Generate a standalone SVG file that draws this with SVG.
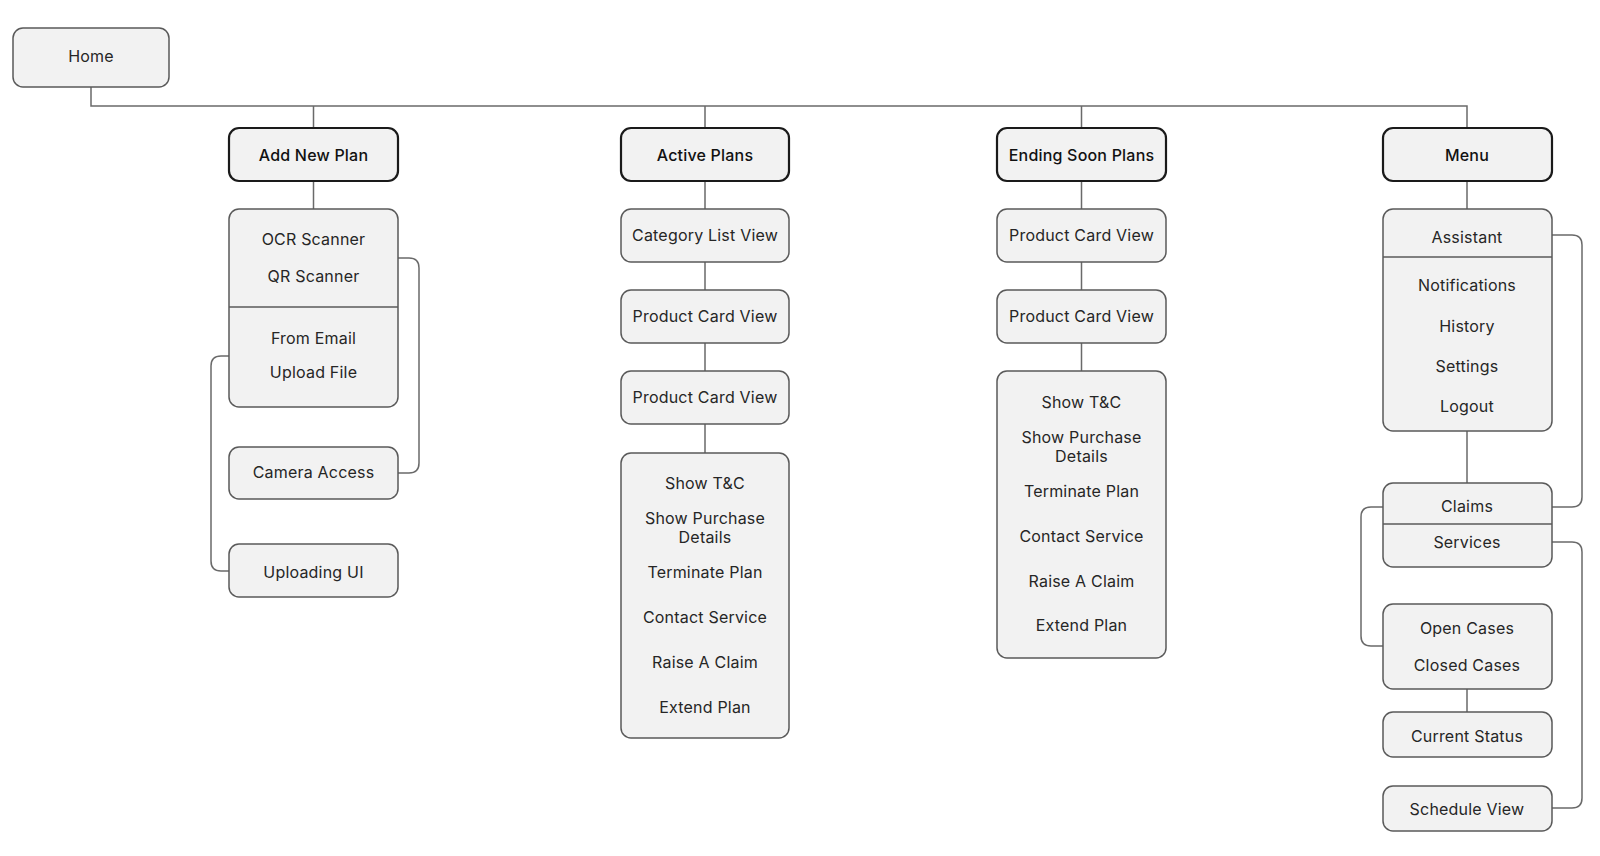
<svg xmlns="http://www.w3.org/2000/svg" width="1600" height="856" viewBox="0 0 1600 856">
<style>
  .box { fill: #f2f2f2; stroke: #5a5a5a; stroke-width: 1.5; }
  .hdr { fill: #f2f2f2; stroke: #1a1a1a; stroke-width: 2.2; }
  .div { stroke: #5a5a5a; stroke-width: 1.5; fill: none; }
  .con { stroke: #6a6a6a; stroke-width: 1.5; fill: none; }
  text { font-family: Inter, "Noto Sans", "Liberation Sans", sans-serif; font-size: 16px; fill: #262626; text-anchor: middle; dominant-baseline: central; letter-spacing: 0.2px; }
  .b { font-weight: 500; fill: #111111; }
</style>
<rect width="1600" height="856" fill="#ffffff"/>

<g id="connectors">
  <path class="con" d="M91 87 V106 H1467 V128"/>
  <path class="con" d="M313.5 106 V128 M705 106 V128 M1081.5 106 V128"/>
  <path class="con" d="M313.5 181 V209"/>
  <path class="con" d="M705 181 V209 M705 262 V290 M705 343 V371 M705 424 V453"/>
  <path class="con" d="M1081.5 181 V209 M1081.5 262 V290 M1081.5 343 V371"/>
  <path class="con" d="M1467 181 V209 M1467 431 V483 M1467 689 V712"/>
  <path class="con" d="M398 258 H409 Q419 258 419 268 V463 Q419 473 409 473 H398"/>
  <path class="con" d="M229 356 H221 Q211 356 211 366 V561 Q211 571 221 571 H229"/>
  <path class="con" d="M1552 235 H1572 Q1582 235 1582 245 V497 Q1582 507 1572 507 H1552"/>
  <path class="con" d="M1383 507 H1371 Q1361 507 1361 517 V636 Q1361 646 1371 646 H1383"/>
  <path class="con" d="M1552 542 H1572 Q1582 542 1582 552 V798 Q1582 808 1572 808 H1552"/>
</g>

<g id="home">
  <rect class="box" x="13" y="28" width="156" height="59" rx="10"/>
  <text x="91" y="56">Home</text>
</g>

<g id="add-new-plan">
  <rect class="hdr" x="229" y="128" width="169" height="53" rx="10"/>
  <text class="b" x="313.5" y="155">Add New Plan</text>
</g>
<g id="scan-options">
  <rect class="box" x="229" y="209" width="169" height="198" rx="10"/>
  <line class="div" x1="229" y1="307" x2="398" y2="307"/>
  <text x="313.5" y="239">OCR Scanner</text>
  <text x="313.5" y="276">QR Scanner</text>
  <text x="313.5" y="338">From Email</text>
  <text x="313.5" y="372">Upload File</text>
</g>
<g id="camera-access">
  <rect class="box" x="229" y="447" width="169" height="52" rx="10"/>
  <text x="313.5" y="472">Camera Access</text>
</g>
<g id="uploading-ui">
  <rect class="box" x="229" y="544" width="169" height="53" rx="10"/>
  <text x="313.5" y="572">Uploading UI</text>
</g>

<g id="active-plans">
  <rect class="hdr" x="621" y="128" width="168" height="53" rx="10"/>
  <text class="b" x="705" y="155">Active Plans</text>
</g>
<g id="category-list-view">
  <rect class="box" x="621" y="209" width="168" height="53" rx="10"/>
  <text x="705" y="235">Category List View</text>
</g>
<g id="active-product-card-1">
  <rect class="box" x="621" y="290" width="168" height="53" rx="10"/>
  <text x="705" y="316">Product Card View</text>
</g>
<g id="active-product-card-2">
  <rect class="box" x="621" y="371" width="168" height="53" rx="10"/>
  <text x="705" y="397">Product Card View</text>
</g>
<g id="active-actions">
  <rect class="box" x="621" y="453" width="168" height="285" rx="10"/>
  <text x="705" y="483">Show T&amp;C</text>
  <text x="705" y="518">Show Purchase</text>
  <text x="705" y="537">Details</text>
  <text x="705" y="572">Terminate Plan</text>
  <text x="705" y="617">Contact Service</text>
  <text x="705" y="662">Raise A Claim</text>
  <text x="705" y="707">Extend Plan</text>
</g>

<g id="ending-soon-plans">
  <rect class="hdr" x="997" y="128" width="169" height="53" rx="10"/>
  <text class="b" x="1081.5" y="155">Ending Soon Plans</text>
</g>
<g id="ending-product-card-1">
  <rect class="box" x="997" y="209" width="169" height="53" rx="10"/>
  <text x="1081.5" y="235">Product Card View</text>
</g>
<g id="ending-product-card-2">
  <rect class="box" x="997" y="290" width="169" height="53" rx="10"/>
  <text x="1081.5" y="316">Product Card View</text>
</g>
<g id="ending-actions">
  <rect class="box" x="997" y="371" width="169" height="287" rx="10"/>
  <text x="1081.5" y="402">Show T&amp;C</text>
  <text x="1081.5" y="437">Show Purchase</text>
  <text x="1081.5" y="456">Details</text>
  <text x="1081.5" y="491">Terminate Plan</text>
  <text x="1081.5" y="536">Contact Service</text>
  <text x="1081.5" y="581">Raise A Claim</text>
  <text x="1081.5" y="625">Extend Plan</text>
</g>

<g id="menu">
  <rect class="hdr" x="1383" y="128" width="169" height="53" rx="10"/>
  <text class="b" x="1467" y="155">Menu</text>
</g>
<g id="menu-items">
  <rect class="box" x="1383" y="209" width="169" height="222" rx="10"/>
  <line class="div" x1="1383" y1="257" x2="1552" y2="257"/>
  <text x="1467" y="237">Assistant</text>
  <text x="1467" y="285">Notifications</text>
  <text x="1467" y="326">History</text>
  <text x="1467" y="366">Settings</text>
  <text x="1467" y="406">Logout</text>
</g>
<g id="claims-services">
  <rect class="box" x="1383" y="483" width="169" height="84" rx="10"/>
  <line class="div" x1="1383" y1="524" x2="1552" y2="524"/>
  <text x="1467" y="506">Claims</text>
  <text x="1467" y="542">Services</text>
</g>
<g id="cases">
  <rect class="box" x="1383" y="604" width="169" height="85" rx="10"/>
  <text x="1467" y="628">Open Cases</text>
  <text x="1467" y="665">Closed Cases</text>
</g>
<g id="current-status">
  <rect class="box" x="1383" y="712" width="169" height="45" rx="10"/>
  <text x="1467" y="736">Current Status</text>
</g>
<g id="schedule-view">
  <rect class="box" x="1383" y="786" width="169" height="45" rx="10"/>
  <text x="1467" y="809">Schedule View</text>
</g>
</svg>
